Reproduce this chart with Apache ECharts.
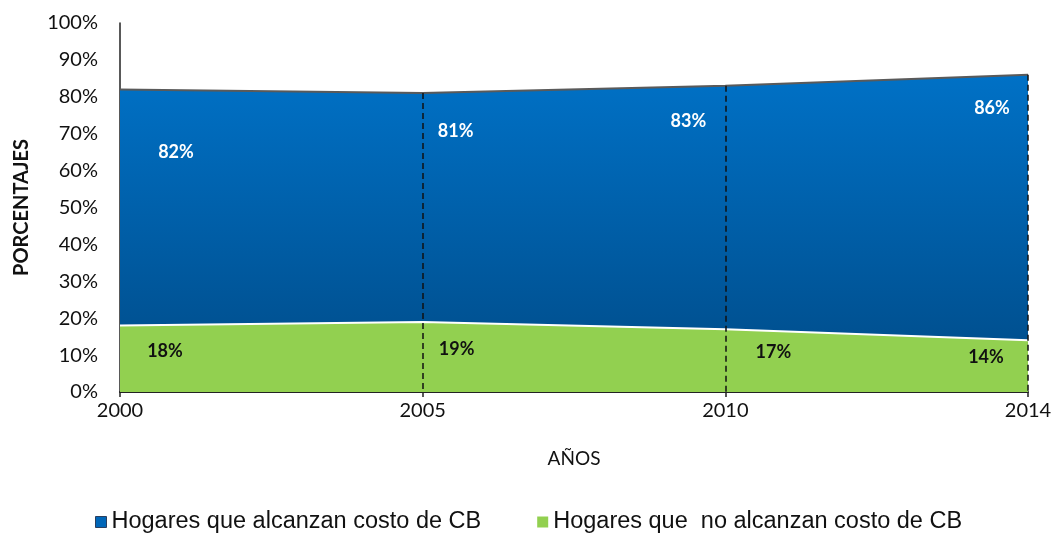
<!DOCTYPE html>
<html>
<head>
<meta charset="utf-8">
<script src="https://cdn.jsdelivr.net/npm/echarts@6/dist/echarts.min.js"></script>
<style>
  html, body { margin: 0; padding: 0; background: #fff; }
  #chart { width: 1056px; height: 538px; }
</style>
</head>
<body>
<div id="chart"></div>
<script>
const years = ['2000', '2005', '2010', '2014'];
const alcanzan = [82, 81, 83, 86];
const noAlcanzan = [18, 19, 17, 14];
const yTicks = ['0%', '10%', '20%', '30%', '40%', '50%', '60%', '70%', '80%', '90%', '100%'];

// label placement (pixel offsets from each point), copied by eye from the Excel chart
const blueOffsets = [[56, 63], [33, 38], [-37, 35], [-36, 34]];
const greenOffsets = [[45, 26], [34, 27], [48, 23], [-42, 17]];

const font = 'Lato, "Open Sans", sans-serif';
const chart = echarts.init(document.getElementById('chart'));

const withLabels = (vals, offs) => vals.map((v, i) => ({
  value: v,
  label: { offset: offs[i] }
}));

const option = {
  animation: false,
  grid: { left: 120, right: 28, top: 23, bottom: 146 },
  legend: {
    top: 505,
    left: 90,
    itemWidth: 11,
    itemHeight: 11,
    itemGap: 56,
    icon: 'rect',
    textStyle: { fontFamily: '"Liberation Sans", Arial, sans-serif', fontSize: 23.5, color: '#111' },
    data: [
      { name: 'Hogares que alcanzan costo de CB', itemStyle: { color: '#0066b8', borderColor: '#2a3f5f', borderWidth: 1 } },
      { name: 'Hogares que  no alcanzan costo de CB', itemStyle: { color: '#92d050' } }
    ]
  },
  xAxis: {
    type: 'category',
    data: years,
    boundaryGap: false,
    name: 'AÑOS',
    nameLocation: 'middle',
    nameGap: 57,
    nameTextStyle: { fontFamily: font, fontSize: 19, color: '#111' },
    axisLine: { lineStyle: { color: '#222', width: 2 } },
    axisTick: { show: true, length: 5, lineStyle: { color: '#222', width: 1.5 } },
    axisLabel: { fontFamily: font, fontSize: 20, color: '#111', margin: 9 },
    splitLine: { show: false }
  },
  yAxis: {
    type: 'value',
    min: 0,
    max: 100,
    interval: 10,
    name: 'PORCENTAJES',
    nameLocation: 'middle',
    nameGap: 88,
    nameTextStyle: { fontFamily: font, fontSize: 20, fontWeight: 'bold', color: '#111' },
    axisLine: { show: true, lineStyle: { color: '#222', width: 1.5 } },
    axisTick: { show: false },
    axisLabel: {
      fontFamily: font, fontSize: 20, color: '#111', margin: 22,
      formatter: v => yTicks[Math.round(v / 10)]
    },
    splitLine: { show: false }
  },
  series: [
    {
      name: 'Hogares que alcanzan costo de CB',
      type: 'line',
      data: withLabels(alcanzan, blueOffsets),
      symbol: 'circle',
      symbolSize: 0,
      showSymbol: true,
      itemStyle: { color: '#0066b8' },
      lineStyle: { color: '#5a5a5a', width: 2 },
      areaStyle: {
        opacity: 1,
        color: new echarts.graphic.LinearGradient(0, 0, 0, 1, [
          { offset: 0, color: '#0071c6' },
          { offset: 1, color: '#004a86' }
        ])
      },
      label: {
        show: true,
        position: 'inside',
        formatter: '{c}%',
        fontFamily: font,
        fontWeight: 'bold',
        fontSize: 18,
        color: '#fff'
      },
      z: 2
    },
    {
      name: 'Hogares que  no alcanzan costo de CB',
      type: 'line',
      data: withLabels(noAlcanzan, greenOffsets),
      symbol: 'circle',
      symbolSize: 0,
      showSymbol: true,
      itemStyle: { color: '#92d050' },
      lineStyle: { color: '#ffffff', width: 2 },
      areaStyle: { opacity: 1, color: '#92d050' },
      label: {
        show: true,
        position: 'inside',
        formatter: '{c}%',
        fontFamily: font,
        fontWeight: 'bold',
        fontSize: 18,
        color: '#111'
      },
      markLine: {
        silent: true,
        symbol: 'none',
        label: { show: false },
        lineStyle: { color: '#111', type: [6, 4], width: 1.5 },
        data: years.slice(1).map((y, i) => [
          { coord: [y, alcanzan[i + 1]] },
          { coord: [y, 0] }
        ])
      },
      z: 3
    }
  ]
};

chart.setOption(option);
</script>
</body>
</html>
